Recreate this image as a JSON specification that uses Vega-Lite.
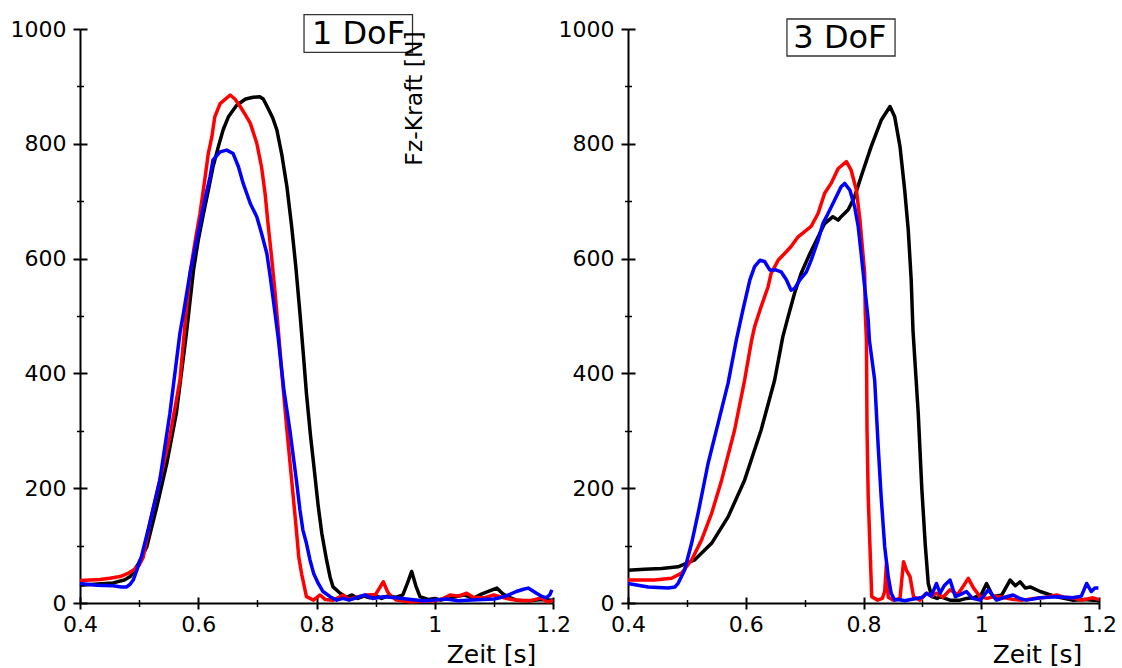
{
 "$schema": "https://vega.github.io/schema/vega-lite/v6.json",
 "padding": {"left": 10, "top": 14, "right": 5, "bottom": 5},
 "background": "white",
 "config": {"view": {"stroke": null}, "font": "DejaVu Sans",
  "axis": {"grid": false, "domainColor": "black", "domainWidth": 2, "tickColor": "black", "labelColor": "black", "titleColor": "black", "labelFont": "DejaVu Sans", "titleFont": "DejaVu Sans", "labelFontSize": 22, "titleFontSize": 25, "titleFontWeight": "normal"}},
 "datasets": {
  "curves": [
   {"p":1,"s":"A","t":0.400,"F":31},{"p":1,"s":"A","t":0.430,"F":33},{"p":1,"s":"A","t":0.456,"F":35},{"p":1,"s":"A","t":0.475,"F":40},{"p":1,"s":"A","t":0.485,"F":46},{"p":1,"s":"A","t":0.499,"F":69},{"p":1,"s":"A","t":0.513,"F":98},{"p":1,"s":"A","t":0.530,"F":168},{"p":1,"s":"A","t":0.547,"F":244},{"p":1,"s":"A","t":0.563,"F":331},{"p":1,"s":"A","t":0.580,"F":470},{"p":1,"s":"A","t":0.592,"F":580},{"p":1,"s":"A","t":0.600,"F":632},{"p":1,"s":"A","t":0.609,"F":679},{"p":1,"s":"A","t":0.617,"F":719},{"p":1,"s":"A","t":0.625,"F":760},{"p":1,"s":"A","t":0.634,"F":795},{"p":1,"s":"A","t":0.642,"F":824},{"p":1,"s":"A","t":0.651,"F":847},{"p":1,"s":"A","t":0.665,"F":867},{"p":1,"s":"A","t":0.680,"F":878},{"p":1,"s":"A","t":0.693,"F":881},{"p":1,"s":"A","t":0.704,"F":882},{"p":1,"s":"A","t":0.710,"F":878},{"p":1,"s":"A","t":0.718,"F":862},{"p":1,"s":"A","t":0.726,"F":845},{"p":1,"s":"A","t":0.733,"F":824},{"p":1,"s":"A","t":0.741,"F":783},{"p":1,"s":"A","t":0.750,"F":725},{"p":1,"s":"A","t":0.758,"F":656},{"p":1,"s":"A","t":0.765,"F":586},{"p":1,"s":"A","t":0.772,"F":505},{"p":1,"s":"A","t":0.778,"F":430},{"p":1,"s":"A","t":0.783,"F":365},{"p":1,"s":"A","t":0.790,"F":290},{"p":1,"s":"A","t":0.795,"F":244},{"p":1,"s":"A","t":0.803,"F":168},{"p":1,"s":"A","t":0.809,"F":121},{"p":1,"s":"A","t":0.817,"F":75},{"p":1,"s":"A","t":0.823,"F":45},{"p":1,"s":"A","t":0.828,"F":28},{"p":1,"s":"A","t":0.840,"F":17},{"p":1,"s":"A","t":0.850,"F":10},{"p":1,"s":"A","t":0.860,"F":14},{"p":1,"s":"A","t":0.870,"F":8},{"p":1,"s":"A","t":0.880,"F":12},{"p":1,"s":"A","t":0.890,"F":9},{"p":1,"s":"A","t":0.900,"F":13},{"p":1,"s":"A","t":0.910,"F":8},{"p":1,"s":"A","t":0.920,"F":12},{"p":1,"s":"A","t":0.935,"F":10},{"p":1,"s":"A","t":0.946,"F":14},{"p":1,"s":"A","t":0.954,"F":35},{"p":1,"s":"A","t":0.961,"F":55},{"p":1,"s":"A","t":0.968,"F":30},{"p":1,"s":"A","t":0.975,"F":11},{"p":1,"s":"A","t":0.990,"F":6},{"p":1,"s":"A","t":1.000,"F":8},{"p":1,"s":"A","t":1.010,"F":5},{"p":1,"s":"A","t":1.030,"F":10},{"p":1,"s":"A","t":1.050,"F":14},{"p":1,"s":"A","t":1.065,"F":8},{"p":1,"s":"A","t":1.080,"F":16},{"p":1,"s":"A","t":1.095,"F":22},{"p":1,"s":"A","t":1.105,"F":26},{"p":1,"s":"A","t":1.115,"F":16},{"p":1,"s":"A","t":1.125,"F":10},{"p":1,"s":"A","t":1.138,"F":5},{"p":1,"s":"A","t":1.160,"F":4},{"p":1,"s":"A","t":1.180,"F":6},{"p":1,"s":"A","t":1.200,"F":5},

   {"p":1,"s":"B","t":0.400,"F":39},{"p":1,"s":"B","t":0.434,"F":41},{"p":1,"s":"B","t":0.450,"F":43},{"p":1,"s":"B","t":0.468,"F":46},{"p":1,"s":"B","t":0.480,"F":51},{"p":1,"s":"B","t":0.490,"F":57},{"p":1,"s":"B","t":0.500,"F":66},{"p":1,"s":"B","t":0.507,"F":80},{"p":1,"s":"B","t":0.518,"F":139},{"p":1,"s":"B","t":0.535,"F":214},{"p":1,"s":"B","t":0.552,"F":290},{"p":1,"s":"B","t":0.569,"F":388},{"p":1,"s":"B","t":0.578,"F":490},{"p":1,"s":"B","t":0.586,"F":574},{"p":1,"s":"B","t":0.595,"F":632},{"p":1,"s":"B","t":0.603,"F":679},{"p":1,"s":"B","t":0.611,"F":737},{"p":1,"s":"B","t":0.617,"F":783},{"p":1,"s":"B","t":0.623,"F":812},{"p":1,"s":"B","t":0.628,"F":847},{"p":1,"s":"B","t":0.637,"F":870},{"p":1,"s":"B","t":0.654,"F":885},{"p":1,"s":"B","t":0.662,"F":878},{"p":1,"s":"B","t":0.671,"F":865},{"p":1,"s":"B","t":0.680,"F":850},{"p":1,"s":"B","t":0.688,"F":836},{"p":1,"s":"B","t":0.699,"F":801},{"p":1,"s":"B","t":0.707,"F":760},{"p":1,"s":"B","t":0.713,"F":714},{"p":1,"s":"B","t":0.718,"F":661},{"p":1,"s":"B","t":0.724,"F":603},{"p":1,"s":"B","t":0.730,"F":540},{"p":1,"s":"B","t":0.735,"F":481},{"p":1,"s":"B","t":0.741,"F":405},{"p":1,"s":"B","t":0.750,"F":301},{"p":1,"s":"B","t":0.758,"F":214},{"p":1,"s":"B","t":0.766,"F":127},{"p":1,"s":"B","t":0.770,"F":80},{"p":1,"s":"B","t":0.775,"F":50},{"p":1,"s":"B","t":0.783,"F":11},{"p":1,"s":"B","t":0.795,"F":5},{"p":1,"s":"B","t":0.806,"F":14},{"p":1,"s":"B","t":0.815,"F":6},{"p":1,"s":"B","t":0.828,"F":5},{"p":1,"s":"B","t":0.838,"F":10},{"p":1,"s":"B","t":0.845,"F":14},{"p":1,"s":"B","t":0.855,"F":6},{"p":1,"s":"B","t":0.862,"F":9},{"p":1,"s":"B","t":0.875,"F":12},{"p":1,"s":"B","t":0.885,"F":14},{"p":1,"s":"B","t":0.900,"F":15},{"p":1,"s":"B","t":0.913,"F":37},{"p":1,"s":"B","t":0.920,"F":20},{"p":1,"s":"B","t":0.924,"F":14},{"p":1,"s":"B","t":0.935,"F":5},{"p":1,"s":"B","t":0.958,"F":2},{"p":1,"s":"B","t":0.980,"F":3},{"p":1,"s":"B","t":1.000,"F":4},{"p":1,"s":"B","t":1.015,"F":8},{"p":1,"s":"B","t":1.026,"F":14},{"p":1,"s":"B","t":1.040,"F":12},{"p":1,"s":"B","t":1.054,"F":17},{"p":1,"s":"B","t":1.065,"F":10},{"p":1,"s":"B","t":1.083,"F":9},{"p":1,"s":"B","t":1.100,"F":14},{"p":1,"s":"B","t":1.110,"F":11},{"p":1,"s":"B","t":1.130,"F":6},{"p":1,"s":"B","t":1.150,"F":4},{"p":1,"s":"B","t":1.166,"F":5},{"p":1,"s":"B","t":1.180,"F":9},{"p":1,"s":"B","t":1.190,"F":2},{"p":1,"s":"B","t":1.200,"F":4},

   {"p":1,"s":"C","t":0.400,"F":34},{"p":1,"s":"C","t":0.428,"F":31},{"p":1,"s":"C","t":0.456,"F":30},{"p":1,"s":"C","t":0.470,"F":28},{"p":1,"s":"C","t":0.479,"F":28},{"p":1,"s":"C","t":0.485,"F":33},{"p":1,"s":"C","t":0.490,"F":40},{"p":1,"s":"C","t":0.497,"F":60},{"p":1,"s":"C","t":0.504,"F":81},{"p":1,"s":"C","t":0.518,"F":139},{"p":1,"s":"C","t":0.535,"F":214},{"p":1,"s":"C","t":0.552,"F":330},{"p":1,"s":"C","t":0.569,"F":470},{"p":1,"s":"C","t":0.575,"F":505},{"p":1,"s":"C","t":0.586,"F":574},{"p":1,"s":"C","t":0.595,"F":621},{"p":1,"s":"C","t":0.603,"F":661},{"p":1,"s":"C","t":0.611,"F":702},{"p":1,"s":"C","t":0.620,"F":743},{"p":1,"s":"C","t":0.625,"F":772},{"p":1,"s":"C","t":0.637,"F":786},{"p":1,"s":"C","t":0.648,"F":789},{"p":1,"s":"C","t":0.659,"F":783},{"p":1,"s":"C","t":0.668,"F":760},{"p":1,"s":"C","t":0.676,"F":731},{"p":1,"s":"C","t":0.688,"F":696},{"p":1,"s":"C","t":0.699,"F":673},{"p":1,"s":"C","t":0.707,"F":644},{"p":1,"s":"C","t":0.716,"F":609},{"p":1,"s":"C","t":0.721,"F":574},{"p":1,"s":"C","t":0.727,"F":528},{"p":1,"s":"C","t":0.735,"F":464},{"p":1,"s":"C","t":0.745,"F":370},{"p":1,"s":"C","t":0.755,"F":301},{"p":1,"s":"C","t":0.766,"F":214},{"p":1,"s":"C","t":0.772,"F":162},{"p":1,"s":"C","t":0.777,"F":127},{"p":1,"s":"C","t":0.783,"F":104},{"p":1,"s":"C","t":0.789,"F":75},{"p":1,"s":"C","t":0.795,"F":52},{"p":1,"s":"C","t":0.803,"F":34},{"p":1,"s":"C","t":0.811,"F":20},{"p":1,"s":"C","t":0.823,"F":11},{"p":1,"s":"C","t":0.834,"F":5},{"p":1,"s":"C","t":0.845,"F":8},{"p":1,"s":"C","t":0.855,"F":5},{"p":1,"s":"C","t":0.870,"F":10},{"p":1,"s":"C","t":0.882,"F":14},{"p":1,"s":"C","t":0.895,"F":8},{"p":1,"s":"C","t":0.913,"F":11},{"p":1,"s":"C","t":0.935,"F":9},{"p":1,"s":"C","t":0.960,"F":6},{"p":1,"s":"C","t":0.980,"F":4},{"p":1,"s":"C","t":0.997,"F":5},{"p":1,"s":"C","t":1.020,"F":7},{"p":1,"s":"C","t":1.040,"F":4},{"p":1,"s":"C","t":1.054,"F":5},{"p":1,"s":"C","t":1.080,"F":6},{"p":1,"s":"C","t":1.100,"F":7},{"p":1,"s":"C","t":1.110,"F":9},{"p":1,"s":"C","t":1.125,"F":14},{"p":1,"s":"C","t":1.138,"F":20},{"p":1,"s":"C","t":1.150,"F":24},{"p":1,"s":"C","t":1.158,"F":26},{"p":1,"s":"C","t":1.172,"F":17},{"p":1,"s":"C","t":1.180,"F":12},{"p":1,"s":"C","t":1.189,"F":9},{"p":1,"s":"C","t":1.195,"F":15},{"p":1,"s":"C","t":1.198,"F":23},

   {"p":3,"s":"A","t":0.400,"F":57},{"p":3,"s":"A","t":0.428,"F":59},{"p":3,"s":"A","t":0.457,"F":60},{"p":3,"s":"A","t":0.485,"F":63},{"p":3,"s":"A","t":0.513,"F":75},{"p":3,"s":"A","t":0.542,"F":104},{"p":3,"s":"A","t":0.570,"F":150},{"p":3,"s":"A","t":0.598,"F":214},{"p":3,"s":"A","t":0.626,"F":301},{"p":3,"s":"A","t":0.649,"F":388},{"p":3,"s":"A","t":0.663,"F":464},{"p":3,"s":"A","t":0.672,"F":499},{"p":3,"s":"A","t":0.683,"F":540},{"p":3,"s":"A","t":0.694,"F":574},{"p":3,"s":"A","t":0.709,"F":609},{"p":3,"s":"A","t":0.723,"F":638},{"p":3,"s":"A","t":0.734,"F":661},{"p":3,"s":"A","t":0.748,"F":673},{"p":3,"s":"A","t":0.757,"F":667},{"p":3,"s":"A","t":0.762,"F":673},{"p":3,"s":"A","t":0.774,"F":685},{"p":3,"s":"A","t":0.785,"F":708},{"p":3,"s":"A","t":0.796,"F":743},{"p":3,"s":"A","t":0.813,"F":795},{"p":3,"s":"A","t":0.830,"F":841},{"p":3,"s":"A","t":0.845,"F":865},{"p":3,"s":"A","t":0.853,"F":847},{"p":3,"s":"A","t":0.862,"F":795},{"p":3,"s":"A","t":0.870,"F":719},{"p":3,"s":"A","t":0.876,"F":650},{"p":3,"s":"A","t":0.881,"F":563},{"p":3,"s":"A","t":0.884,"F":476},{"p":3,"s":"A","t":0.893,"F":330},{"p":3,"s":"A","t":0.899,"F":200},{"p":3,"s":"A","t":0.905,"F":100},{"p":3,"s":"A","t":0.910,"F":34},{"p":3,"s":"A","t":0.916,"F":11},{"p":3,"s":"A","t":0.925,"F":8},{"p":3,"s":"A","t":0.930,"F":11},{"p":3,"s":"A","t":0.947,"F":5},{"p":3,"s":"A","t":0.964,"F":5},{"p":3,"s":"A","t":0.975,"F":8},{"p":3,"s":"A","t":0.987,"F":9},{"p":3,"s":"A","t":1.000,"F":15},{"p":3,"s":"A","t":1.009,"F":34},{"p":3,"s":"A","t":1.020,"F":11},{"p":3,"s":"A","t":1.035,"F":14},{"p":3,"s":"A","t":1.049,"F":40},{"p":3,"s":"A","t":1.058,"F":30},{"p":3,"s":"A","t":1.066,"F":37},{"p":3,"s":"A","t":1.075,"F":26},{"p":3,"s":"A","t":1.083,"F":28},{"p":3,"s":"A","t":1.100,"F":20},{"p":3,"s":"A","t":1.115,"F":15},{"p":3,"s":"A","t":1.128,"F":11},{"p":3,"s":"A","t":1.155,"F":5},{"p":3,"s":"A","t":1.175,"F":6},{"p":3,"s":"A","t":1.190,"F":5},{"p":3,"s":"A","t":1.200,"F":4},

   {"p":3,"s":"B","t":0.400,"F":40},{"p":3,"s":"B","t":0.445,"F":40},{"p":3,"s":"B","t":0.474,"F":43},{"p":3,"s":"B","t":0.491,"F":52},{"p":3,"s":"B","t":0.508,"F":75},{"p":3,"s":"B","t":0.525,"F":110},{"p":3,"s":"B","t":0.542,"F":156},{"p":3,"s":"B","t":0.559,"F":214},{"p":3,"s":"B","t":0.581,"F":301},{"p":3,"s":"B","t":0.598,"F":388},{"p":3,"s":"B","t":0.610,"F":458},{"p":3,"s":"B","t":0.615,"F":481},{"p":3,"s":"B","t":0.626,"F":516},{"p":3,"s":"B","t":0.638,"F":551},{"p":3,"s":"B","t":0.643,"F":574},{"p":3,"s":"B","t":0.655,"F":597},{"p":3,"s":"B","t":0.666,"F":609},{"p":3,"s":"B","t":0.677,"F":621},{"p":3,"s":"B","t":0.689,"F":638},{"p":3,"s":"B","t":0.700,"F":647},{"p":3,"s":"B","t":0.711,"F":656},{"p":3,"s":"B","t":0.723,"F":679},{"p":3,"s":"B","t":0.734,"F":714},{"p":3,"s":"B","t":0.745,"F":731},{"p":3,"s":"B","t":0.757,"F":757},{"p":3,"s":"B","t":0.771,"F":769},{"p":3,"s":"B","t":0.779,"F":754},{"p":3,"s":"B","t":0.788,"F":719},{"p":3,"s":"B","t":0.794,"F":667},{"p":3,"s":"B","t":0.799,"F":609},{"p":3,"s":"B","t":0.802,"F":574},{"p":3,"s":"B","t":0.803,"F":505},{"p":3,"s":"B","t":0.805,"F":458},{"p":3,"s":"B","t":0.806,"F":301},{"p":3,"s":"B","t":0.808,"F":185},{"p":3,"s":"B","t":0.812,"F":69},{"p":3,"s":"B","t":0.814,"F":11},{"p":3,"s":"B","t":0.824,"F":5},{"p":3,"s":"B","t":0.832,"F":8},{"p":3,"s":"B","t":0.836,"F":20},{"p":3,"s":"B","t":0.839,"F":69},{"p":3,"s":"B","t":0.842,"F":10},{"p":3,"s":"B","t":0.850,"F":5},{"p":3,"s":"B","t":0.862,"F":8},{"p":3,"s":"B","t":0.868,"F":72},{"p":3,"s":"B","t":0.873,"F":57},{"p":3,"s":"B","t":0.879,"F":46},{"p":3,"s":"B","t":0.885,"F":11},{"p":3,"s":"B","t":0.896,"F":5},{"p":3,"s":"B","t":0.907,"F":17},{"p":3,"s":"B","t":0.915,"F":12},{"p":3,"s":"B","t":0.924,"F":17},{"p":3,"s":"B","t":0.935,"F":10},{"p":3,"s":"B","t":0.947,"F":23},{"p":3,"s":"B","t":0.960,"F":15},{"p":3,"s":"B","t":0.970,"F":30},{"p":3,"s":"B","t":0.978,"F":43},{"p":3,"s":"B","t":0.987,"F":26},{"p":3,"s":"B","t":0.998,"F":11},{"p":3,"s":"B","t":1.010,"F":8},{"p":3,"s":"B","t":1.025,"F":12},{"p":3,"s":"B","t":1.040,"F":9},{"p":3,"s":"B","t":1.055,"F":6},{"p":3,"s":"B","t":1.070,"F":5},{"p":3,"s":"B","t":1.090,"F":8},{"p":3,"s":"B","t":1.110,"F":10},{"p":3,"s":"B","t":1.128,"F":14},{"p":3,"s":"B","t":1.140,"F":10},{"p":3,"s":"B","t":1.155,"F":9},{"p":3,"s":"B","t":1.170,"F":5},{"p":3,"s":"B","t":1.190,"F":9},{"p":3,"s":"B","t":1.200,"F":6},

   {"p":3,"s":"C","t":0.400,"F":34},{"p":3,"s":"C","t":0.434,"F":28},{"p":3,"s":"C","t":0.468,"F":26},{"p":3,"s":"C","t":0.480,"F":28},{"p":3,"s":"C","t":0.485,"F":34},{"p":3,"s":"C","t":0.496,"F":57},{"p":3,"s":"C","t":0.508,"F":104},{"p":3,"s":"C","t":0.519,"F":156},{"p":3,"s":"C","t":0.536,"F":243},{"p":3,"s":"C","t":0.553,"F":313},{"p":3,"s":"C","t":0.570,"F":383},{"p":3,"s":"C","t":0.584,"F":458},{"p":3,"s":"C","t":0.595,"F":510},{"p":3,"s":"C","t":0.607,"F":563},{"p":3,"s":"C","t":0.615,"F":586},{"p":3,"s":"C","t":0.624,"F":597},{"p":3,"s":"C","t":0.632,"F":595},{"p":3,"s":"C","t":0.641,"F":580},{"p":3,"s":"C","t":0.652,"F":580},{"p":3,"s":"C","t":0.660,"F":577},{"p":3,"s":"C","t":0.669,"F":563},{"p":3,"s":"C","t":0.677,"F":545},{"p":3,"s":"C","t":0.683,"F":548},{"p":3,"s":"C","t":0.692,"F":563},{"p":3,"s":"C","t":0.703,"F":577},{"p":3,"s":"C","t":0.711,"F":597},{"p":3,"s":"C","t":0.723,"F":632},{"p":3,"s":"C","t":0.731,"F":661},{"p":3,"s":"C","t":0.740,"F":679},{"p":3,"s":"C","t":0.751,"F":702},{"p":3,"s":"C","t":0.762,"F":725},{"p":3,"s":"C","t":0.768,"F":731},{"p":3,"s":"C","t":0.777,"F":719},{"p":3,"s":"C","t":0.785,"F":690},{"p":3,"s":"C","t":0.791,"F":656},{"p":3,"s":"C","t":0.796,"F":609},{"p":3,"s":"C","t":0.802,"F":551},{"p":3,"s":"C","t":0.808,"F":493},{"p":3,"s":"C","t":0.810,"F":458},{"p":3,"s":"C","t":0.819,"F":388},{"p":3,"s":"C","t":0.825,"F":272},{"p":3,"s":"C","t":0.830,"F":185},{"p":3,"s":"C","t":0.836,"F":98},{"p":3,"s":"C","t":0.842,"F":46},{"p":3,"s":"C","t":0.847,"F":17},{"p":3,"s":"C","t":0.853,"F":5},{"p":3,"s":"C","t":0.860,"F":6},{"p":3,"s":"C","t":0.870,"F":4},{"p":3,"s":"C","t":0.880,"F":6},{"p":3,"s":"C","t":0.890,"F":8},{"p":3,"s":"C","t":0.900,"F":10},{"p":3,"s":"C","t":0.907,"F":17},{"p":3,"s":"C","t":0.915,"F":12},{"p":3,"s":"C","t":0.924,"F":34},{"p":3,"s":"C","t":0.930,"F":17},{"p":3,"s":"C","t":0.937,"F":30},{"p":3,"s":"C","t":0.947,"F":40},{"p":3,"s":"C","t":0.956,"F":11},{"p":3,"s":"C","t":0.965,"F":15},{"p":3,"s":"C","t":0.975,"F":20},{"p":3,"s":"C","t":0.985,"F":8},{"p":3,"s":"C","t":0.998,"F":5},{"p":3,"s":"C","t":1.012,"F":23},{"p":3,"s":"C","t":1.026,"F":5},{"p":3,"s":"C","t":1.040,"F":10},{"p":3,"s":"C","t":1.054,"F":14},{"p":3,"s":"C","t":1.065,"F":8},{"p":3,"s":"C","t":1.077,"F":5},{"p":3,"s":"C","t":1.100,"F":9},{"p":3,"s":"C","t":1.128,"F":11},{"p":3,"s":"C","t":1.155,"F":9},{"p":3,"s":"C","t":1.170,"F":12},{"p":3,"s":"C","t":1.179,"F":34},{"p":3,"s":"C","t":1.187,"F":20},{"p":3,"s":"C","t":1.193,"F":26},{"p":3,"s":"C","t":1.199,"F":26}
  ]
 },
 "spacing": 75,
 "bounds": "flush",
 "hconcat": [
  {
   "width": 473, "height": 574,
   "layer": [
    {"data": {"name": "curves"}, "transform": [{"filter": "datum.p == 1"}],
     "mark": {"type": "line", "strokeWidth": 3.5, "strokeJoin": "round"},
     "encoding": {
      "x": {"field": "t", "type": "quantitative", "scale": {"domain": [0.4, 1.2], "nice": false, "zero": false},
            "axis": {"orient": "bottom", "values": [0.4, 0.6, 0.8, 1, 1.2], "format": "~g", "labelFontSize": 22, "tickSize": 6, "tickWidth": 2, "labelPadding": 5, "labelFlush": false, "title": "Zeit [s]", "titleX": 411, "titleY": 59, "titleAlign": "center", "titleBaseline": "alphabetic", "titleAnchor": null}},
      "y": {"field": "F", "type": "quantitative", "scale": {"domain": [0, 1000], "nice": false},
            "axis": {"orient": "left", "values": [0, 200, 400, 600, 800, 1000], "format": "d", "labelFontSize": 22, "tickSize": 7, "tickWidth": 2, "labelPadding": 7, "title": null}},
      "color": {"field": "s", "type": "nominal", "scale": {"domain": ["A", "B", "C"], "range": ["#000000", "#ff0000", "#0000ff"]}, "legend": null}
     }},
    {"data": {"name": "curves"}, "transform": [{"filter": "datum.p == 1"}],
     "mark": {"type": "point", "opacity": 0},
     "encoding": {
      "x": {"field": "t", "type": "quantitative", "scale": {"domain": [0.4, 1.2], "nice": false, "zero": false},
            "axis": {"orient": "bottom", "values": [0.4, 0.6, 0.8, 1, 1.2], "tickSize": -6, "tickWidth": 2, "labels": false, "domain": false, "title": null}},
      "y": {"field": "F", "type": "quantitative", "scale": {"domain": [0, 1000], "nice": false},
            "axis": {"orient": "left", "values": [0, 200, 400, 600, 800, 1000], "tickSize": -7, "tickWidth": 2, "labels": false, "domain": false, "title": null}}
     }},
    {"data": {"name": "curves"}, "transform": [{"filter": "datum.p == 1"}],
     "mark": {"type": "point", "opacity": 0},
     "encoding": {
      "x": {"field": "t", "type": "quantitative", "scale": {"domain": [0.4, 1.2], "nice": false, "zero": false},
            "axis": {"orient": "bottom", "values": [0.5, 0.7, 0.9, 1.1], "tickSize": 3.5, "tickWidth": 1.5, "labels": false, "domain": false, "title": null}},
      "y": {"field": "F", "type": "quantitative", "scale": {"domain": [0, 1000], "nice": false},
            "axis": {"orient": "left", "values": [100, 300, 500, 700, 900], "tickSize": 3.5, "tickWidth": 1.5, "labels": false, "domain": false, "title": null}}
     }},
    {"data": {"name": "curves"}, "transform": [{"filter": "datum.p == 1"}],
     "mark": {"type": "point", "opacity": 0},
     "encoding": {
      "x": {"field": "t", "type": "quantitative", "scale": {"domain": [0.4, 1.2], "nice": false, "zero": false},
            "axis": {"orient": "bottom", "values": [0.5, 0.7, 0.9, 1.1], "tickSize": -3.5, "tickWidth": 1.5, "labels": false, "domain": false, "title": null}},
      "y": {"field": "F", "type": "quantitative", "scale": {"domain": [0, 1000], "nice": false},
            "axis": {"orient": "left", "values": [100, 300, 500, 700, 900], "tickSize": -3.5, "tickWidth": 1.5, "labels": false, "domain": false, "title": null}}
     }},
    {"data": {"values": [{"lbl": "1 DoF"}]},
     "mark": {"type": "rect", "fill": "white", "fillOpacity": 0, "stroke": "#333333", "strokeWidth": 1.3},
     "encoding": {
      "x": {"datum": 0.7789, "type": "quantitative", "scale": {"domain": [0.4, 1.2], "nice": false, "zero": false}, "axis": null},
      "x2": {"datum": 0.9624},
      "y": {"datum": 1024.9, "type": "quantitative", "scale": {"domain": [0, 1000], "nice": false}, "axis": null},
      "y2": {"datum": 959.4}
     }},
    {"data": {"values": [{"lbl": "1 DoF"}]},
     "mark": {"type": "text", "font": "DejaVu Sans", "fontSize": 32, "align": "center", "baseline": "alphabetic", "color": "black"},
     "encoding": {
      "x": {"datum": 0.871, "type": "quantitative", "scale": {"domain": [0.4, 1.2], "nice": false, "zero": false}, "axis": null},
      "y": {"datum": 973.9, "type": "quantitative", "scale": {"domain": [0, 1000], "nice": false}, "axis": null},
      "text": {"field": "lbl"}
     }}
   ],
   "resolve": {"axis": {"x": "independent", "y": "independent"}}
  },
  {
   "width": 471, "height": 574,
   "layer": [
    {"data": {"name": "curves"}, "transform": [{"filter": "datum.p == 3"}],
     "mark": {"type": "line", "strokeWidth": 3.5, "strokeJoin": "round"},
     "encoding": {
      "x": {"field": "t", "type": "quantitative", "scale": {"domain": [0.4, 1.2], "nice": false, "zero": false},
            "axis": {"orient": "bottom", "values": [0.4, 0.6, 0.8, 1, 1.2], "format": "~g", "labelFontSize": 22, "tickSize": 6, "tickWidth": 2, "labelPadding": 5, "labelFlush": false, "title": "Zeit [s]", "titleX": 409, "titleY": 59, "titleAlign": "center", "titleBaseline": "alphabetic", "titleAnchor": null}},
      "y": {"field": "F", "type": "quantitative", "scale": {"domain": [0, 1000], "nice": false},
            "axis": {"orient": "left", "values": [0, 200, 400, 600, 800, 1000], "format": "d", "labelFontSize": 22, "tickSize": 7, "tickWidth": 2, "labelPadding": 7, "title": "Fz-Kraft [N]", "titleFontSize": 23.5, "titleAngle": 270, "titleX": -214, "titleY": 69, "titleAlign": "center", "titleBaseline": "middle", "titleAnchor": null}},
      "color": {"field": "s", "type": "nominal", "scale": {"domain": ["A", "B", "C"], "range": ["#000000", "#ff0000", "#0000ff"]}, "legend": null}
     }},
    {"data": {"name": "curves"}, "transform": [{"filter": "datum.p == 3"}],
     "mark": {"type": "point", "opacity": 0},
     "encoding": {
      "x": {"field": "t", "type": "quantitative", "scale": {"domain": [0.4, 1.2], "nice": false, "zero": false},
            "axis": {"orient": "bottom", "values": [0.4, 0.6, 0.8, 1, 1.2], "tickSize": -6, "tickWidth": 2, "labels": false, "domain": false, "title": null}},
      "y": {"field": "F", "type": "quantitative", "scale": {"domain": [0, 1000], "nice": false},
            "axis": {"orient": "left", "values": [0, 200, 400, 600, 800, 1000], "tickSize": -7, "tickWidth": 2, "labels": false, "domain": false, "title": null}}
     }},
    {"data": {"name": "curves"}, "transform": [{"filter": "datum.p == 3"}],
     "mark": {"type": "point", "opacity": 0},
     "encoding": {
      "x": {"field": "t", "type": "quantitative", "scale": {"domain": [0.4, 1.2], "nice": false, "zero": false},
            "axis": {"orient": "bottom", "values": [0.5, 0.7, 0.9, 1.1], "tickSize": 3.5, "tickWidth": 1.5, "labels": false, "domain": false, "title": null}},
      "y": {"field": "F", "type": "quantitative", "scale": {"domain": [0, 1000], "nice": false},
            "axis": {"orient": "left", "values": [100, 300, 500, 700, 900], "tickSize": 3.5, "tickWidth": 1.5, "labels": false, "domain": false, "title": null}}
     }},
    {"data": {"name": "curves"}, "transform": [{"filter": "datum.p == 3"}],
     "mark": {"type": "point", "opacity": 0},
     "encoding": {
      "x": {"field": "t", "type": "quantitative", "scale": {"domain": [0.4, 1.2], "nice": false, "zero": false},
            "axis": {"orient": "bottom", "values": [0.5, 0.7, 0.9, 1.1], "tickSize": -3.5, "tickWidth": 1.5, "labels": false, "domain": false, "title": null}},
      "y": {"field": "F", "type": "quantitative", "scale": {"domain": [0, 1000], "nice": false},
            "axis": {"orient": "left", "values": [100, 300, 500, 700, 900], "tickSize": -3.5, "tickWidth": 1.5, "labels": false, "domain": false, "title": null}}
     }},
    {"data": {"values": [{"lbl": "3 DoF"}]},
     "mark": {"type": "rect", "fill": "white", "fillOpacity": 0, "stroke": "#333333", "strokeWidth": 1.3},
     "encoding": {
      "x": {"datum": 0.670, "type": "quantitative", "scale": {"domain": [0.4, 1.2], "nice": false, "zero": false}, "axis": null},
      "x2": {"datum": 0.8536},
      "y": {"datum": 1017.4, "type": "quantitative", "scale": {"domain": [0, 1000], "nice": false}, "axis": null},
      "y2": {"datum": 953}
     }},
    {"data": {"values": [{"lbl": "3 DoF"}]},
     "mark": {"type": "text", "font": "DejaVu Sans", "fontSize": 32, "align": "center", "baseline": "alphabetic", "color": "black"},
     "encoding": {
      "x": {"datum": 0.760, "type": "quantitative", "scale": {"domain": [0.4, 1.2], "nice": false, "zero": false}, "axis": null},
      "y": {"datum": 966.4, "type": "quantitative", "scale": {"domain": [0, 1000], "nice": false}, "axis": null},
      "text": {"field": "lbl"}
     }}
   ],
   "resolve": {"axis": {"x": "independent", "y": "independent"}}
  }
 ]
}
